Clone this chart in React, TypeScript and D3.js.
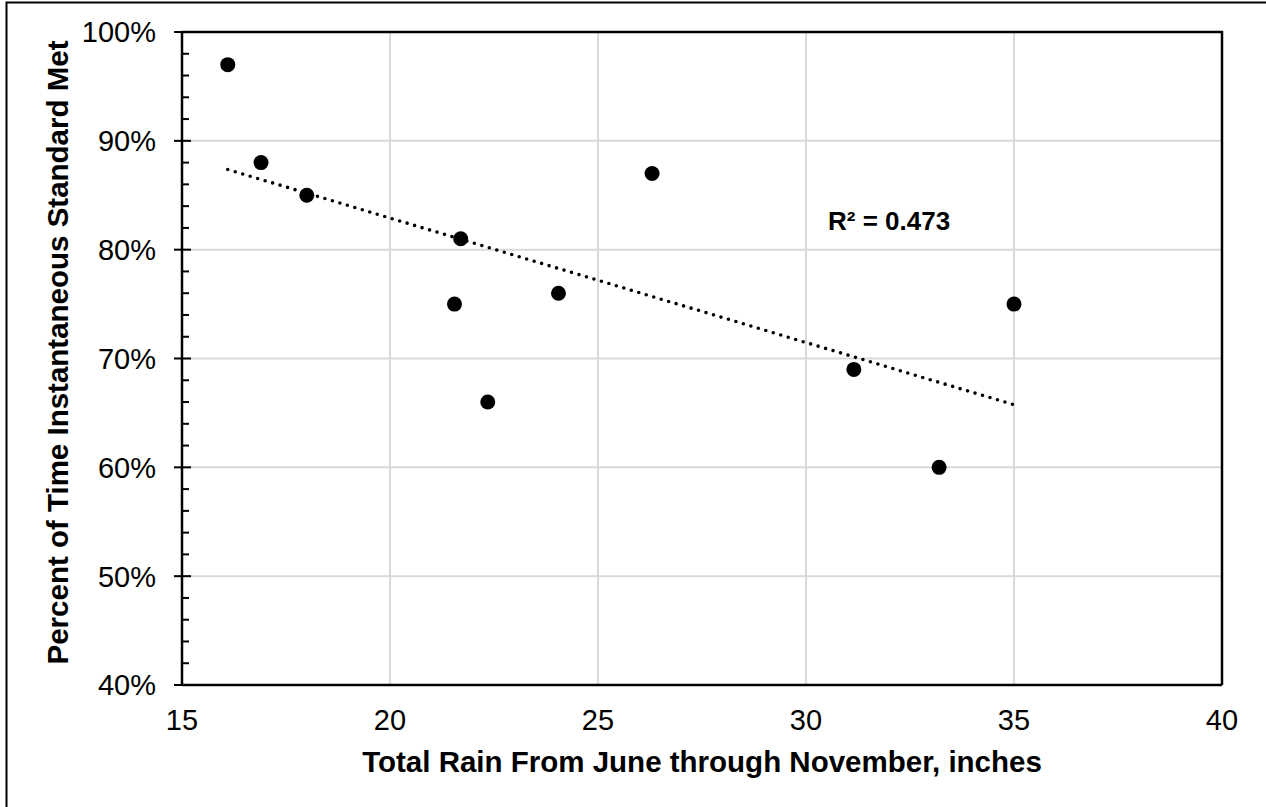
import React, { useEffect, useRef } from 'react';
import * as d3 from 'd3';

// total rain Jun-Nov (inches) vs % of time instantaneous standard met
const rainInches = [16.1, 16.9, 18.0, 21.7, 21.55, 22.35, 24.05, 26.3, 31.15, 33.2, 35.0];
const pctMet = [0.97, 0.88, 0.85, 0.81, 0.75, 0.66, 0.76, 0.87, 0.69, 0.60, 0.75];
const xTicks = [15, 20, 25, 30, 35, 40];
const yTicks = [0.4, 0.5, 0.6, 0.7, 0.8, 0.9, 1.0];
const rSquaredLabel = 'R² = 0.473';

const W = 1266, H = 807;
const FONT = '"Liberation Sans", Arial, sans-serif';

export default function App() {
  const ref = useRef<SVGSVGElement>(null);

  useEffect(() => {
    const svg = d3.select(ref.current);
    svg.selectAll('*').remove();

    const x = d3.scaleLinear().domain([15, 40]).range([182, 1222]);
    const y = d3.scaleLinear().domain([0.4, 1.0]).range([685, 32]);

    svg.append('rect').attr('width', W).attr('height', H).attr('fill', 'white');
    // chart border (runs off the right/bottom edge)
    svg.append('rect')
      .attr('x', 6.5).attr('y', 2.5).attr('width', W + 20).attr('height', H + 20)
      .attr('fill', 'none').attr('stroke', 'black').attr('stroke-width', 2);

    // gridlines
    svg.append('g').selectAll('line')
      .data(yTicks.slice(1, -1))
      .enter().append('line')
      .attr('x1', x(15)).attr('x2', x(40))
      .attr('y1', d => y(d)).attr('y2', d => y(d))
      .attr('stroke', '#d9d9d9').attr('stroke-width', 2);
    svg.append('g').selectAll('line')
      .data(xTicks.slice(1, -1))
      .enter().append('line')
      .attr('y1', y(0.4)).attr('y2', y(1.0))
      .attr('x1', d => x(d)).attr('x2', d => x(d))
      .attr('stroke', '#d9d9d9').attr('stroke-width', 2);

    // plot border top/right
    svg.append('path')
      .attr('d', `M${x(15)},${y(1.0)}H${x(40)}V${y(0.4)}`)
      .attr('fill', 'none').attr('stroke', 'black').attr('stroke-width', 2.5);

    // y axis with major ticks crossing and minor ticks inside
    svg.append('line')
      .attr('x1', x(15)).attr('x2', x(15)).attr('y1', y(1.0)).attr('y2', y(0.4))
      .attr('stroke', 'black').attr('stroke-width', 2.5);
    const minor = d3.range(0.42, 0.999, 0.02).filter(v => Math.round(v * 100) % 10 !== 0);
    svg.append('g').selectAll('line')
      .data(minor)
      .enter().append('line')
      .attr('x1', x(15)).attr('x2', x(15) + 7)
      .attr('y1', d => y(d)).attr('y2', d => y(d))
      .attr('stroke', 'black').attr('stroke-width', 2);
    svg.append('g').selectAll('line')
      .data(yTicks)
      .enter().append('line')
      .attr('x1', x(15) - 8).attr('x2', x(15) + 9)
      .attr('y1', d => y(d)).attr('y2', d => y(d))
      .attr('stroke', 'black').attr('stroke-width', 2);

    // x axis
    svg.append('line')
      .attr('x1', x(15)).attr('x2', x(40)).attr('y1', y(0.4)).attr('y2', y(0.4))
      .attr('stroke', 'black').attr('stroke-width', 2.5);

    // tick labels
    svg.append('g').selectAll('text')
      .data(yTicks)
      .enter().append('text')
      .attr('x', 156).attr('y', d => y(d))
      .attr('dy', '0.36em')
      .attr('text-anchor', 'end')
      .attr('font-family', FONT).attr('font-size', 29)
      .text(d => d3.format('.0%')(d));
    svg.append('g').selectAll('text')
      .data(xTicks)
      .enter().append('text')
      .attr('x', d => x(d)).attr('y', 730)
      .attr('text-anchor', 'middle')
      .attr('font-family', FONT).attr('font-size', 29)
      .text(d => d);

    // axis titles, centred on the plot area
    svg.append('text')
      .attr('x', (x(15) + x(40)) / 2).attr('y', 772)
      .attr('text-anchor', 'middle')
      .attr('font-family', FONT).attr('font-size', 29.5).attr('font-weight', 'bold')
      .text('Total Rain From June through November, inches');
    svg.append('text')
      .attr('transform', `translate(68,${(y(1.0) + y(0.4)) / 2 - 6}) rotate(-90)`)
      .attr('text-anchor', 'middle')
      .attr('font-family', FONT).attr('font-size', 29.5).attr('font-weight', 'bold')
      .text('Percent of Time Instantaneous Standard Met');

    // linear trendline
    const pts = rainInches.map((r, i) => [r, pctMet[i]]);
    const mx = d3.mean(rainInches)!, my = d3.mean(pctMet)!;
    const sxy = d3.sum(pts, p => (p[0] - mx) * (p[1] - my));
    const sxx = d3.sum(pts, p => (p[0] - mx) ** 2);
    const slope = sxy / sxx, icpt = my - slope * mx;
    const [x0, x1] = d3.extent(rainInches) as [number, number];
    svg.append('line')
      .attr('x1', x(x0)).attr('y1', y(icpt + slope * x0))
      .attr('x2', x(x1)).attr('y2', y(icpt + slope * x1))
      .attr('stroke', 'black').attr('stroke-width', 3.6)
      .attr('stroke-dasharray', '0 7.8').attr('stroke-linecap', 'round');

    // points
    svg.append('g').selectAll('circle')
      .data(pts)
      .enter().append('circle')
      .attr('cx', d => x(d[0])).attr('cy', d => y(d[1]))
      .attr('r', 7.5).attr('fill', 'black');

    svg.append('text')
      .attr('x', 828).attr('y', 230)
      .attr('font-family', FONT).attr('font-size', 26).attr('font-weight', 'bold')
      .text(rSquaredLabel);
  }, []);

  return (
    <svg ref={ref} width={W} height={H}
      style={{ position: 'absolute', left: 0, top: 0, display: 'block' }} />
  );
}
